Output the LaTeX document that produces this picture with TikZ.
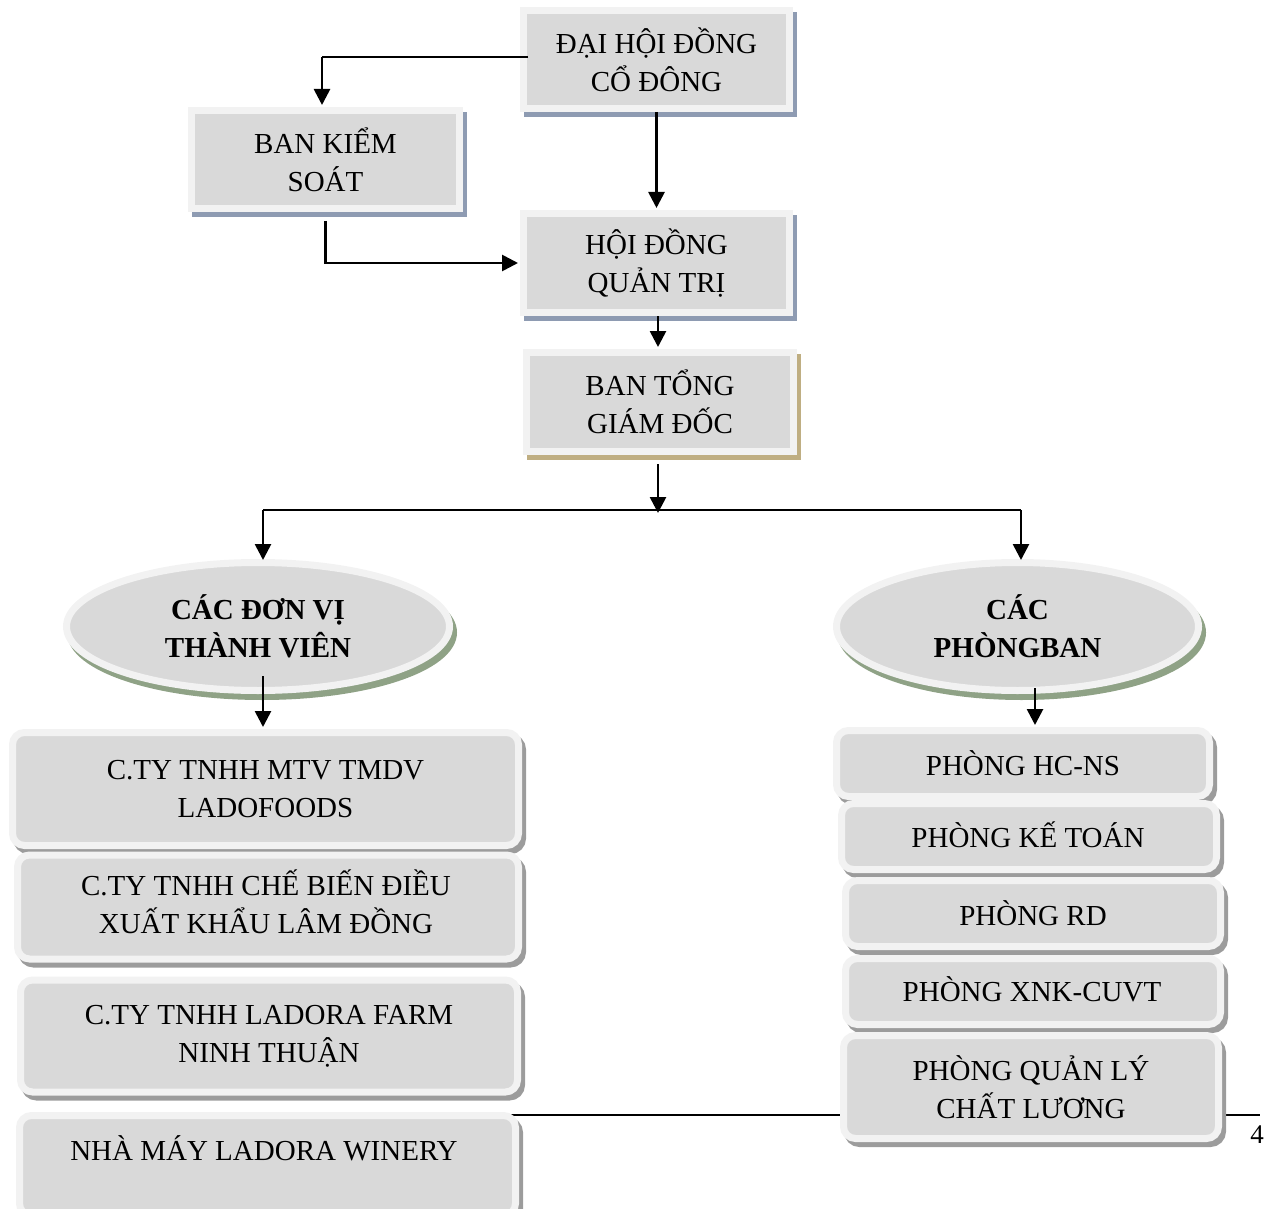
\documentclass[tikz,border=0pt]{standalone}
\usepackage{fontspec}
\setmainfont{Liberation Serif}
\usetikzlibrary{arrows.meta,shadows,shapes.geometric}
\definecolor{rim}{HTML}{F2F2F2}
\definecolor{core}{HTML}{D9D9D9}
\definecolor{shblue}{HTML}{8E9BB2}
\definecolor{shtan}{HTML}{BFAE82}
\definecolor{shgreen}{HTML}{8FA286}
\definecolor{shgray}{HTML}{9C9C9C}
\tikzset{
  txt/.style={font=\fontsize{29}{38}\selectfont, align=center},
  basebox/.style={txt, draw=rim, fill=core, line width=7pt, inner sep=0pt},
  sqbox/.style={basebox, rectangle,
     drop shadow={shadow xshift=4pt, shadow yshift=-5pt, fill=#1, draw=#1, line width=7pt, opacity=1}},
  rbox/.style={basebox, rectangle, rounded corners=12pt,
     drop shadow={shadow xshift=4pt, shadow yshift=-5pt, fill=shgray, draw=shgray, line width=7pt, opacity=1}},
  ellbox/.style={basebox, ellipse, font=\fontsize{29}{38}\selectfont\bfseries,
     drop shadow={shadow xshift=4pt, shadow yshift=-6pt, fill=shgreen, draw=shgreen, line width=7pt, opacity=1}},
  arr/.style={line width=2.7pt, -{Triangle[width=16pt,length=16pt]}},
  ln/.style={line width=2.3pt}
}
\begin{document}
\begin{tikzpicture}[x=1pt,y=-1pt]
\useasboundingbox (0,0) rectangle (1269,1209);
% footer rule and page number
\coordinate (fl) at (508,1115);
\coordinate (fr) at (1260,1115);
\draw[line width=1.4pt] (fl) -- (fr);
\node[font=\fontsize{27}{30}\selectfont] (pg) at (1257,1135) {4};

% top boxes
\node[sqbox=shblue, minimum width=266pt, minimum height=98pt] (dh) at (656.5,59.5) {ĐẠI HỘI ĐỒNG\\CỔ ĐÔNG};
\node[sqbox=shblue, minimum width=268pt, minimum height=98pt] (bks) at (325.5,159.5) {BAN KIỂM\\SOÁT};
\node[sqbox=shblue, minimum width=266pt, minimum height=99pt] (hd) at (656.5,263) {HỘI ĐỒNG\\QUẢN TRỊ};
\node[sqbox=shtan, minimum width=267pt, minimum height=99pt] (tgd) at (660,402) {BAN TỔNG\\GIÁM ĐỐC};

% ellipses
\node[ellbox, minimum width=383pt, minimum height=128pt] (e1) at (258,626.5) {CÁC ĐƠN VỊ\\THÀNH VIÊN};
\node[ellbox, minimum width=362pt, minimum height=128pt] (e2) at (1017.5,626.5) {CÁC\\PHÒNGBAN};

% left rounded boxes
\node[rbox, minimum width=506pt, minimum height=113pt] (b1) at (265.5,789) {C.TY TNHH MTV TMDV\\LADOFOODS};
\node[rbox, minimum width=501pt, minimum height=104pt] (b2) at (268,907) {};
\node[txt] (b2t) at (266,902) {C.TY TNHH CHẾ BIẾN ĐIỀU\\XUẤT KHẨU LÂM ĐỒNG};
\node[rbox, minimum width=497pt, minimum height=112pt] (b3) at (269,1036) {C.TY TNHH LADORA FARM\\NINH THUẬN};
\node[rbox, minimum width=496pt, minimum height=100pt] (b4) at (267.5,1165.5) {};
\node[txt] (b4t) at (264,1148) {NHÀ MÁY LADORA WINERY};

% right rounded boxes
\node[rbox, minimum width=373pt, minimum height=66pt] (r1) at (1023,763.5) {PHÒNG HC-NS};
\node[rbox, minimum width=375pt, minimum height=66pt] (r2) at (1029,836.5) {};
\node[txt] (r2t) at (1028,834.5) {PHÒNG KẾ TOÁN};
\node[rbox, minimum width=375pt, minimum height=66pt] (r3) at (1033,913.5) {PHÒNG RD};
\node[rbox, minimum width=375pt, minimum height=66pt] (r4) at (1033,991.5) {};
\node[txt] (r4t) at (1032,989.5) {PHÒNG XNK-CUVT};
\node[rbox, minimum width=375pt, minimum height=103pt] (r5) at (1031,1087) {PHÒNG QUẢN LÝ\\CHẤT LƯƠNG};

% connectors
\coordinate (dhl) at (528,57);
\coordinate (bksx) at (322,57);
\draw[ln] (dhl) -- (bksx);
\draw[arr, shorten >=2pt] (bksx) -- (bksx |- bks.north);
\draw[arr, shorten >=2pt] (dh.south) -- (hd.north);
\draw[arr, shorten >=2pt] ([yshift=-9pt]bks.south) |- (hd.west);
\coordinate (hdb) at (658,316);
\draw[arr, shorten >=2pt] (hdb) -- (hdb |- tgd.north);
\coordinate (j) at (658,510);
\coordinate (jl) at (263,510);
\coordinate (jr) at (1021,510);
\draw[arr, shorten >=-3pt] ([yshift=-9pt]tgd.south -| j) -- (j);
\draw[ln] (jl) -- (jr);
\draw[arr, shorten >=-1pt] (jl) -- (jl |- e1.north);
\draw[arr, shorten >=-1pt] (jr) -- (jr |- e2.north);
\coordinate (e1b) at (263,676);
\draw[arr, shorten >=2pt] (e1b) -- (e1b |- b1.north);
\coordinate (e2b) at (1035,688);
\draw[arr, shorten >=2pt] (e2b) -- (e2b |- r1.north);
\end{tikzpicture}
\end{document}
